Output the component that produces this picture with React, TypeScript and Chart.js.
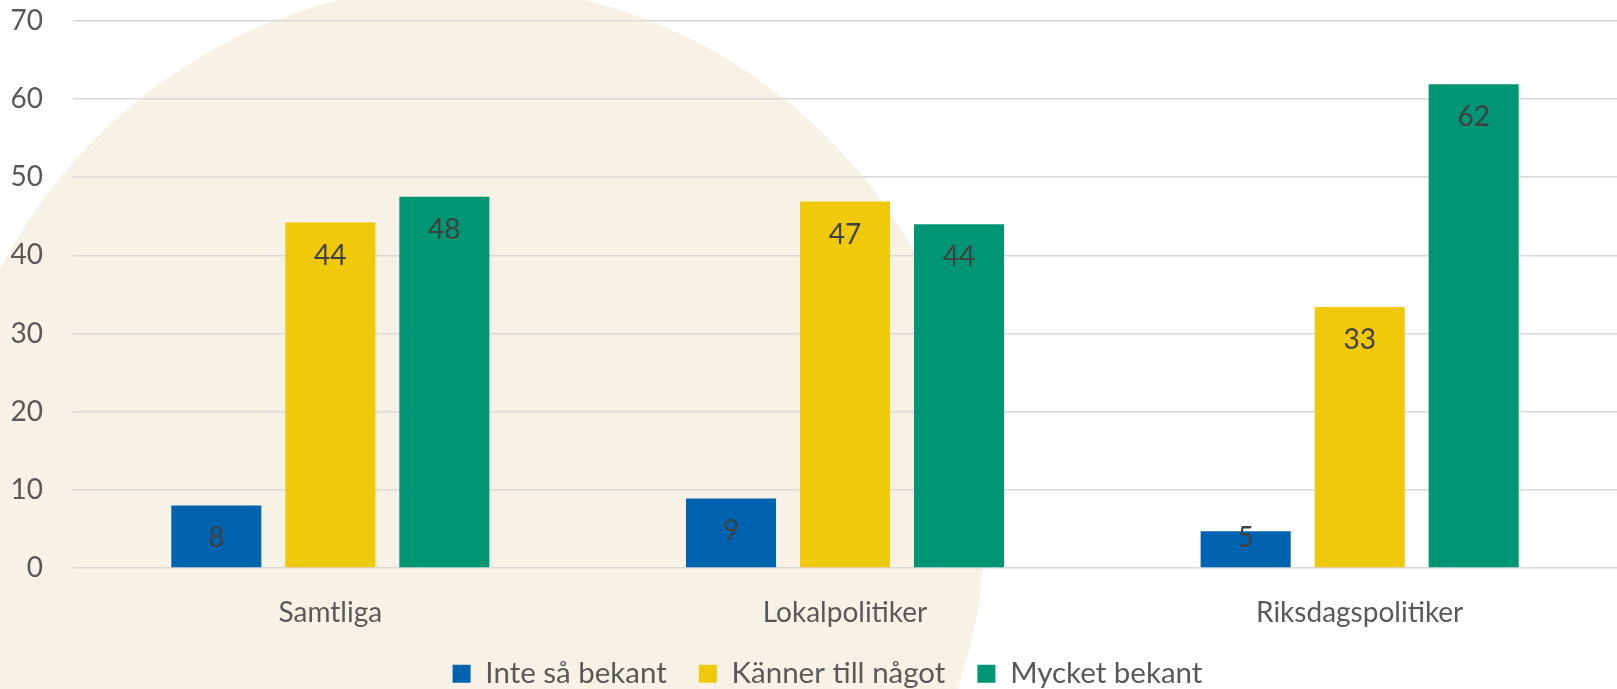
import React, { useEffect, useRef } from "react";
import { Chart, registerables } from "chart.js";

Chart.register(...registerables);

const categories = ["Samtliga", "Lokalpolitiker", "Riksdagspolitiker"];
const seriesNames = ["Inte så bekant", "Känner till något", "Mycket bekant"];
const inteSaBekant = [8.0, 8.9, 4.7];
const kannerTillNagot = [44.2, 46.9, 33.4];
const mycketBekant = [47.5, 44.0, 61.9];
const seriesColors = ["#0063AF", "#EFC90A", "#009673"];
const yTicks = [0, 10, 20, 30, 40, 50, 60, 70];

const FONT = "Lato, 'Open Sans', sans-serif";
const TEXT = "#595959";

const backgroundCircle = {
  id: "backgroundCircle",
  beforeDraw(chart: any) {
    const ctx = chart.ctx;
    ctx.save();
    ctx.fillStyle = "#F8F2E6";
    ctx.beginPath();
    ctx.ellipse(462, 520, 523, 535, 0, 0, Math.PI * 2);
    ctx.fill();
    ctx.restore();
  },
};

const legendShift = {
  id: "legendShift",
  afterLayout(chart: any) {
    if (chart.legend) {
      chart.legend.left += 14;
      chart.legend.right += 14;
    }
  },
};

const valueLabels = {
  id: "valueLabels",
  afterDatasetsDraw(chart: any) {
    const ctx = chart.ctx;
    ctx.save();
    ctx.font = `28px ${FONT}`;
    ctx.fillStyle = "#404040";
    ctx.textAlign = "center";
    ctx.textBaseline = "middle";
    chart.data.datasets.forEach((ds: any, i: number) => {
      const meta = chart.getDatasetMeta(i);
      meta.data.forEach((bar: any, j: number) => {
        const v = ds.data[j];
        const y = Math.min(bar.y + 33, bar.base - 29);
        ctx.fillText(String(Math.round(v)), bar.x, y);
      });
    });
    ctx.restore();
  },
};

export default function App() {
  const ref = useRef<HTMLCanvasElement | null>(null);
  useEffect(() => {
    document.body.style.margin = "0";
    if (!ref.current) return;
    const chart = new Chart(ref.current, {
      type: "bar",
      data: {
        labels: categories,
        datasets: [inteSaBekant, kannerTillNagot, mycketBekant].map((d, i) => ({
          label: seriesNames[i],
          data: d,
          backgroundColor: seriesColors[i],
          borderWidth: 0,
          categoryPercentage: 0.6645,
          barPercentage: 0.79,
        })),
      },
      options: {
        animation: false,
        responsive: true,
        maintainAspectRatio: false,
        layout: { padding: { left: 10, right: 0, top: 21, bottom: 0 } },
        plugins: {
          tooltip: { enabled: false },
          legend: {
            position: "bottom",
            maxHeight: 62,
            labels: {
              boxWidth: 18,
              boxHeight: 18,
              padding: 32,
              color: TEXT,
              font: { family: FONT, size: 29.5 },
            },
          },
        },
        scales: {
          x: {
            grid: { display: false },
            border: { display: false },
            ticks: { color: TEXT, font: { family: FONT, size: 28 }, padding: 20 },
            afterFit(scale: any) {
              scale.height = 59;
              scale.paddingLeft = 0;
              scale.paddingRight = 0;
            },
          },
          y: {
            min: 0,
            max: 70,
            afterBuildTicks(scale: any) {
              scale.ticks = yTicks.map((v) => ({ value: v }));
            },
            afterFit(scale: any) {
              scale.width = 63;
              scale.paddingTop = 0;
              scale.paddingBottom = 0;
            },
            grid: { color: "#D9D9D9", lineWidth: 1.6, drawTicks: false },
            border: { display: false },
            ticks: { color: TEXT, font: { family: FONT, size: 28 }, padding: 30 },
          },
        },
      },
      plugins: [backgroundCircle, legendShift, valueLabels],
    });
    return () => chart.destroy();
  }, []);
  return (
    <div style={{ width: "1617px", height: "689px", position: "relative" }}>
      <canvas ref={ref} />
    </div>
  );
}
